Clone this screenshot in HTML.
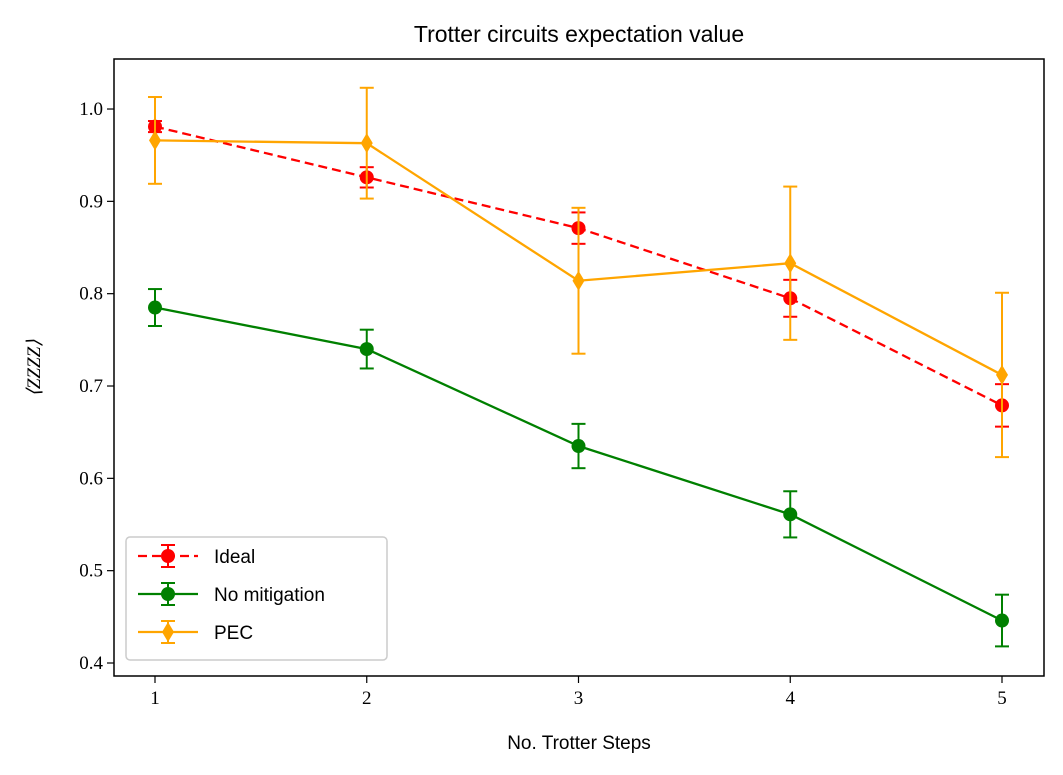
<!DOCTYPE html>
<html><head><meta charset="utf-8"><style>
body{margin:0;background:#fff;}
svg{display:block;font-family:"Liberation Sans",sans-serif;}
.tk{font-family:"Liberation Serif",serif;font-size:19px;}
</style></head><body>
<svg id="chart" width="1063" height="775">
<text x="579" y="42" text-anchor="middle" font-size="23">Trotter circuits expectation value</text>
<text x="579" y="749" text-anchor="middle" font-size="19">No. Trotter Steps</text>
<text transform="translate(40,368) rotate(-90)" text-anchor="middle" font-size="19" font-family="Liberation Serif,serif" font-style="italic">⟨ZZZZ⟩</text>
<g id="ticks"></g>
<g id="series"></g>
<rect x="114" y="59" width="930" height="617" fill="none" stroke="#000" stroke-width="1.5"/>
<g id="legend">
<rect x="126" y="537" width="261" height="123" rx="4" fill="#fff" fill-opacity="0.8" stroke="#ccc" stroke-width="1.5"/>
</g>
</svg>
<script>
const steps=[1,2,3,4,5];
const ideal=[0.981,0.926,0.871,0.795,0.679];
const idealErr=[0.006,0.011,0.017,0.02,0.023];
const noMit=[0.785,0.740,0.635,0.561,0.446];
const noMitErr=[0.02,0.021,0.024,0.025,0.028];
const pec=[0.966,0.963,0.814,0.833,0.712];
const pecErr=[0.047,0.06,0.079,0.083,0.089];
const yTicks=[0.4,0.5,0.6,0.7,0.8,0.9,1.0];
const yTickLabels=["0.4","0.5","0.6","0.7","0.8","0.9","1.0"];
const xTickLabels=["1","2","3","4","5"];
const NS="http://www.w3.org/2000/svg";
const X=v=>155+(v-1)*211.75;
const Y=v=>663-(v-0.4)*923.3;
function mk(tag,attrs,parent){const e=document.createElementNS(NS,tag);for(const k in attrs)e.setAttribute(k,attrs[k]);parent.appendChild(e);return e;}
const tg=document.getElementById('ticks');
yTicks.forEach((t,i)=>{
 const l=mk('line',{x1:107,x2:114,y1:Y(t),y2:Y(t),stroke:'#000','stroke-width':1.2},tg);
 
 
 const tx=mk('text',{x:103,y:Y(t)+6,'text-anchor':'end',class:'tk'},tg);tx.textContent=yTickLabels[i];
 
 
});
steps.forEach((s,i)=>{
 const l=mk('line',{x1:X(s),x2:X(s),y1:676,y2:683,stroke:'#000','stroke-width':1.2},tg);
 
 
 const tx=mk('text',{x:X(s),y:704,'text-anchor':'middle',class:'tk'},tg);tx.textContent=xTickLabels[i];
 
 
});
const sg=document.getElementById('series');
function series(vals,errs,color,dash,marker,name){
 const g=mk('g',{},sg);
 
 
 vals.forEach((v,i)=>{
  const x=X(steps[i]);
  mk('line',{x1:x,x2:x,y1:Y(v-errs[i]),y2:Y(v+errs[i]),stroke:color,'stroke-width':2},g);
  mk('line',{x1:x-7,x2:x+7,y1:Y(v-errs[i]),y2:Y(v-errs[i]),stroke:color,'stroke-width':2},g);
  mk('line',{x1:x-7,x2:x+7,y1:Y(v+errs[i]),y2:Y(v+errs[i]),stroke:color,'stroke-width':2},g);
 });
 const p=mk('polyline',{points:vals.map((v,i)=>X(steps[i])+','+Y(v)).join(' '),fill:'none',stroke:color,'stroke-width':2.3,'stroke-dasharray':dash||'none'},g);
 
 
 vals.forEach((v,i)=>{
  const x=X(steps[i]),y=Y(v);
  let m;
  if(marker==='o')m=mk('circle',{cx:x,cy:y,r:7,fill:color},g);
  else m=mk('polygon',{points:`${x},${y-10} ${x+6},${y} ${x},${y+10} ${x-6},${y}`,fill:color},g);
  
  
 });
}
series(ideal,idealErr,'#ff0000','9,5','o','ideal');
series(noMit,noMitErr,'#008000',null,'o','no-mitigation');
series(pec,pecErr,'#ffa500',null,'d','pec');
const lg=document.getElementById('legend');
[['Ideal','#ff0000','9,5','o'],['No mitigation','#008000',null,'o'],['PEC','#ffa500',null,'d']].forEach((e,i)=>{
 const y=556+i*38,x=168;
 const g=mk('g',{},lg);
 
 
 mk('line',{x1:138,x2:198,y1:y,y2:y,stroke:e[1],'stroke-width':2.3,'stroke-dasharray':e[2]||'none'},g);
 mk('line',{x1:x,x2:x,y1:y-11,y2:y+11,stroke:e[1],'stroke-width':2},g);
 mk('line',{x1:x-7,x2:x+7,y1:y-11,y2:y-11,stroke:e[1],'stroke-width':2},g);
 mk('line',{x1:x-7,x2:x+7,y1:y+11,y2:y+11,stroke:e[1],'stroke-width':2},g);
 if(e[3]==='o')mk('circle',{cx:x,cy:y,r:7,fill:e[1]},g);
 else mk('polygon',{points:`${x},${y-10} ${x+6},${y} ${x},${y+10} ${x-6},${y}`,fill:e[1]},g);
 const t=mk('text',{x:214,y:y+7,'font-size':19},g);t.textContent=e[0];
});
</script>
</body></html>
